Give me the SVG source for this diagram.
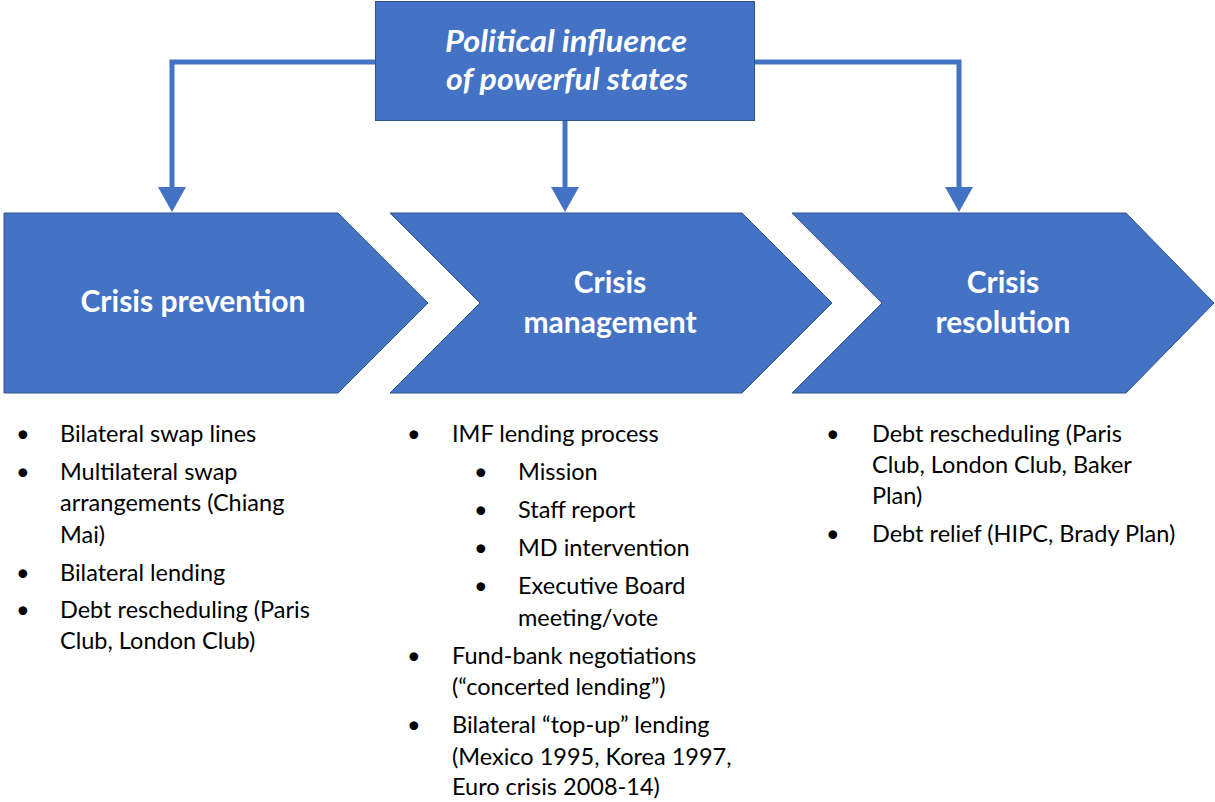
<svg xmlns="http://www.w3.org/2000/svg" width="1215" height="802" viewBox="0 0 1215 802">
  <style>
    .shape { fill: #4472C4; stroke: #2F528F; stroke-width: 1; }
    .wire { fill: none; stroke: #4472C4; stroke-width: 5; }
    .head { fill: #4472C4; }
    .title { font-family: Lato, "Open Sans", sans-serif; font-weight: bold; font-size: 30px; fill: #FFFFFF; text-anchor: middle; }
    .top { font-family: Lato, "Open Sans", sans-serif; font-weight: bold; font-style: italic; font-size: 31px; fill: #FFFFFF; text-anchor: middle; }
    .item { font-family: Lato, "Open Sans", sans-serif; font-size: 23.5px; fill: #000000; }
  </style>

  <!-- connectors from the top box down to the three stages -->
  <g id="connectors">
    <polyline class="wire" points="375,62 172,62 172,190"/>
    <polygon class="head" points="158,187 186,187 172,212"/>
    <line class="wire" x1="565" y1="121" x2="565" y2="190"/>
    <polygon class="head" points="551,187 579,187 565,212"/>
    <polyline class="wire" points="754,62 959,62 959,190"/>
    <polygon class="head" points="945,187 973,187 959,212"/>
  </g>

  <g id="influence">
    <rect class="shape" x="375.5" y="1.5" width="379" height="119"/>
    <text class="top" x="566" y="52" textLength="242" lengthAdjust="spacingAndGlyphs">Political influence</text>
    <text class="top" x="567" y="90" textLength="242" lengthAdjust="spacingAndGlyphs">of powerful states</text>
  </g>

  <g id="prevention">
    <polygon class="shape" points="4,213 338,213 428,303 338,393 4,393"/>
    <text class="title" x="193" y="312">Crisis prevention</text>
  </g>

  <g id="management">
    <polygon class="shape" points="390,213 742,213 832,303 742,393 390,393 480,303"/>
    <text class="title" x="610" y="293">Crisis</text>
    <text class="title" x="610" y="333">management</text>
  </g>

  <g id="resolution">
    <polygon class="shape" points="792,213 1126,213 1214,303 1126,393 792,393 882,303"/>
    <text class="title" x="1003" y="293">Crisis</text>
    <text class="title" x="1003" y="333">resolution</text>
  </g>

  <g id="prevention-list" class="item">
    <text x="16" y="442">•</text>
    <text x="60" y="442">Bilateral swap lines</text>
    <text x="16" y="480">•</text>
    <text x="60" y="480">Multilateral swap</text>
    <text x="60" y="511">arrangements (Chiang</text>
    <text x="60" y="543">Mai)</text>
    <text x="16" y="581">•</text>
    <text x="60" y="581">Bilateral lending</text>
    <text x="16" y="618">•</text>
    <text x="60" y="618">Debt rescheduling (Paris</text>
    <text x="60" y="649">Club, London Club)</text>
  </g>

  <g id="management-list" class="item">
    <text x="407" y="442">•</text>
    <text x="452" y="442">IMF lending process</text>
    <text x="474" y="480">•</text>
    <text x="518" y="480">Mission</text>
    <text x="474" y="518">•</text>
    <text x="518" y="518">Staff report</text>
    <text x="474" y="556">•</text>
    <text x="518" y="556">MD intervention</text>
    <text x="474" y="594">•</text>
    <text x="518" y="594">Executive Board</text>
    <text x="518" y="626">meeting/vote</text>
    <text x="407" y="664">•</text>
    <text x="452" y="664">Fund-bank negotiations</text>
    <text x="452" y="695">(“concerted lending”)</text>
    <text x="407" y="733">•</text>
    <text x="452" y="733">Bilateral “top-up” lending</text>
    <text x="452" y="765">(Mexico 1995, Korea 1997,</text>
    <text x="452" y="795">Euro crisis 2008-14)</text>
  </g>

  <g id="resolution-list" class="item">
    <text x="826" y="442">•</text>
    <text x="872" y="442">Debt rescheduling (Paris</text>
    <text x="872" y="473">Club, London Club, Baker</text>
    <text x="872" y="504">Plan)</text>
    <text x="826" y="542">•</text>
    <text x="872" y="542">Debt relief (HIPC, Brady Plan)</text>
  </g>
</svg>
